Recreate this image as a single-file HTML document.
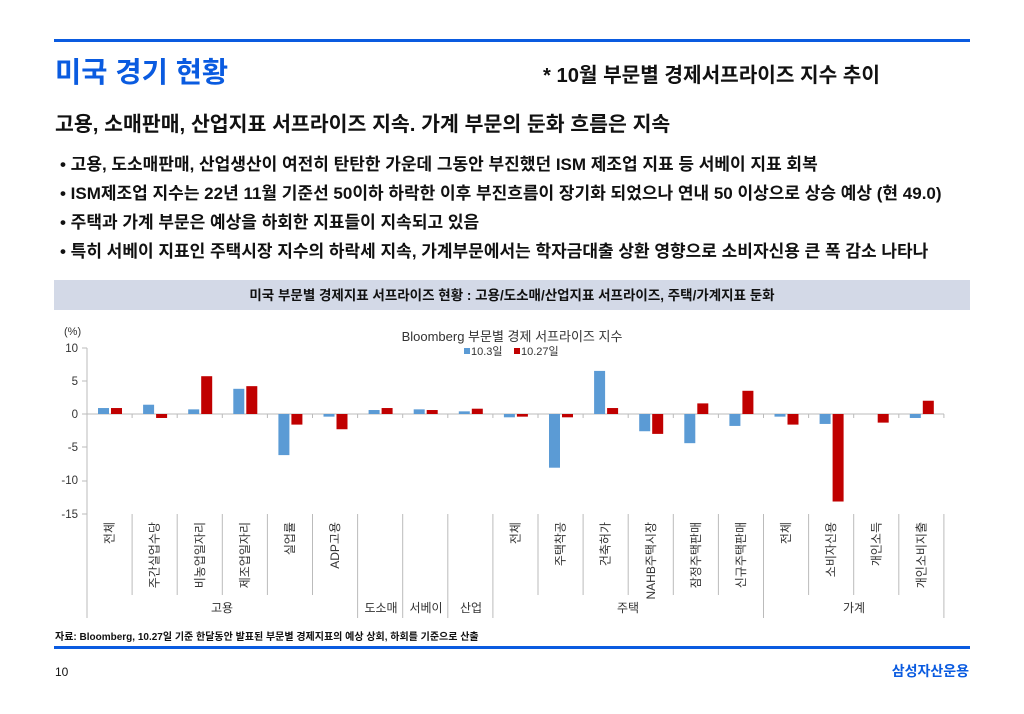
<!DOCTYPE html>
<html><head><meta charset="utf-8"><style>
body{margin:0;background:#fff;width:1024px;height:709px;overflow:hidden;font-family:"Liberation Sans","Noto Sans CJK KR",sans-serif}
</style></head><body>
<svg width="1024" height="709" xmlns="http://www.w3.org/2000/svg" style="font-family:'Liberation Sans','Noto Sans CJK KR',sans-serif">
<rect x="54" y="39" width="916" height="3" fill="#0a5be0"/>
<text x="55" y="82" font-size="28.5" font-weight="bold" fill="#0a5be0">미국 경기 현황</text>
<text x="543" y="82" font-size="20.2" font-weight="bold" fill="#111">* 10월 부문별 경제서프라이즈 지수 추이</text>
<text x="55" y="131" font-size="20.5" font-weight="bold" fill="#111">고용, 소매판매, 산업지표 서프라이즈 지속. 가계 부문의 둔화 흐름은 지속</text>
<g font-size="17" font-weight="bold" fill="#111">
<text x="60" y="170">• 고용, 도소매판매, 산업생산이 여전히 탄탄한 가운데 그동안 부진했던 ISM 제조업 지표 등 서베이 지표 회복</text>
<text x="60" y="199">• ISM제조업 지수는 22년 11월 기준선 50이하 하락한 이후 부진흐름이 장기화 되었으나 연내 50 이상으로 상승 예상 (현 49.0)</text>
<text x="60" y="228">• 주택과 가계 부문은 예상을 하회한 지표들이 지속되고 있음</text>
<text x="60" y="257">• 특히 서베이 지표인 주택시장 지수의 하락세 지속, 가계부문에서는 학자금대출 상환 영향으로 소비자신용 큰 폭 감소 나타나</text>
</g>
<rect x="54" y="280" width="916" height="30" fill="#d3d9e7"/>
<text x="512" y="300" font-size="13.5" font-weight="bold" text-anchor="middle" fill="#111">미국 부문별 경제지표 서프라이즈 현황 : 고용/도소매/산업지표 서프라이즈, 주택/가계지표 둔화</text>
<text x="64" y="335" font-size="11" fill="#333">(%)</text>
<text x="512" y="341" font-size="13" text-anchor="middle" fill="#333">Bloomberg 부문별 경제 서프라이즈 지수</text>
<rect x="464" y="348" width="6" height="6" fill="#5b9bd5"/><text x="471" y="355" font-size="11" fill="#333">10.3일</text>
<rect x="514" y="348" width="6" height="6" fill="#c00000"/><text x="521" y="355" font-size="11" fill="#333">10.27일</text>
<g font-size="11.5" fill="#333" text-anchor="end">
<text x="78" y="352">10</text><text x="78" y="385">5</text><text x="78" y="418">0</text><text x="78" y="451">-5</text><text x="78" y="484">-10</text><text x="78" y="518">-15</text>
</g>
<g stroke="#bbb" stroke-width="1">
<line x1="87" y1="348" x2="87" y2="618"/>
<line x1="82" y1="348" x2="87" y2="348"/><line x1="82" y1="381" x2="87" y2="381"/><line x1="82" y1="414" x2="87" y2="414"/><line x1="82" y1="447" x2="87" y2="447"/><line x1="82" y1="481" x2="87" y2="481"/><line x1="82" y1="514" x2="87" y2="514"/>
<line x1="87" y1="414" x2="944" y2="414"/>
</g>
<g id="bars"></g>
<g id="ticks" stroke="#bbb" stroke-width="1"></g>
<g id="labels" font-size="12" fill="#333"></g>
<g font-size="12" fill="#333" text-anchor="middle">
<text x="222" y="612">고용</text><text x="381" y="612">도소매</text><text x="426" y="612">서베이</text><text x="471" y="612">산업</text><text x="628" y="612">주택</text><text x="854" y="612">가계</text>
</g>
<text x="55" y="640" font-size="10" fill="#111" font-weight="bold">자료: Bloomberg, 10.27일 기준 한달동안 발표된 부문별 경제지표의 예상 상회, 하회를 기준으로 산출</text>
<rect x="54" y="646" width="916" height="3" fill="#0a5be0"/>
<text x="55" y="676" font-size="12" fill="#111">10</text>
<text x="969" y="676" font-size="14" font-weight="bold" fill="#0a5be0" text-anchor="end">삼성자산운용</text>
</svg>
<script>
var ns="http://www.w3.org/2000/svg";
var data=[[0.9,0.9],[1.4,-0.6],[0.7,5.7],[3.8,4.2],[-6.2,-1.6],[-0.4,-2.3],[0.6,0.9],[0.7,0.6],[0.4,0.8],[-0.5,-0.4],[-8.1,-0.5],[6.5,0.9],[-2.6,-3.0],[-4.4,1.6],[-1.8,3.5],[-0.4,-1.6],[-1.5,-13.2],[0,-1.3],[-0.6,2.0]];
var names=["전체","주간실업수당","비농업일자리","제조업일자리","실업률","ADP고용","","","","전체","주택착공","건축허가","NAHB주택시장","잠정주택판매","신규주택판매","전체","소비자신용","개인소득","개인소비지출"];
var W=45.1,x0=87,z=414,k=6.63;
function el(t,a,p){var e=document.createElementNS(ns,t);for(var q in a)e.setAttribute(q,a[q]);document.getElementById(p).appendChild(e);return e;}
data.forEach(function(d,i){var l=x0+W*i;
[[d[0],11,"#5b9bd5"],[d[1],24,"#c00000"]].forEach(function(b){if(b[0]==0)return;var y=b[0]>0?z-b[0]*k:z;el("rect",{x:l+b[1],y:y,width:11,height:Math.abs(b[0])*k,fill:b[2]},"bars");});
if(names[i]){var cx=l+W/2+4;var t=el("text",{x:cx,y:522,transform:"rotate(-90 "+cx+" 522)","text-anchor":"end"},"labels");t.textContent=names[i];}
});
var grp=[6,7,8,9,15,19];
for(var i=1;i<=19;i++){var x=x0+W*i;el("line",{x1:x,y1:414,x2:x,y2:418},"ticks");el("line",{x1:x,y1:514,x2:x,y2:grp.indexOf(i)>=0?618:595},"ticks");}
</script>
</body></html>
